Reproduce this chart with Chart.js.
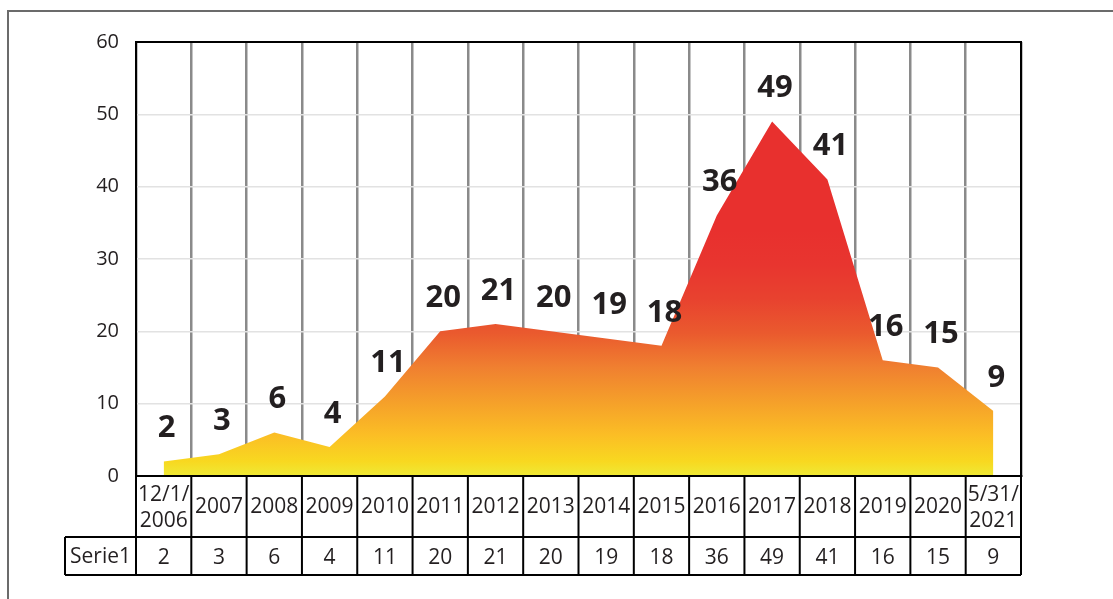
<!DOCTYPE html>
<html>
<head>
<meta charset="utf-8">
<script src="https://cdn.jsdelivr.net/npm/chart.js@4"></script>
<style>
  html, body { margin: 0; padding: 0; background: #fff; }
  canvas { display: block; }
</style>
</head>
<body>
<canvas id="chart" width="1113" height="599"></canvas>
<script>
// data
const categories = [["12/1/", "2006"], "2007", "2008", "2009", "2010", "2011", "2012", "2013",
  "2014", "2015", "2016", "2017", "2018", "2019", "2020", ["5/31/", "2021"]];
const seriesName = "Serie1";
const values = [2, 3, 6, 4, 11, 20, 21, 20, 19, 18, 36, 49, 41, 16, 15, 9];
const yTicks = [0, 10, 20, 30, 40, 50, 60];

const FONT = "'Open Sans', 'Noto Sans', sans-serif";
const TEXT = "#231f20";

function areaFill(context) {
  const chart = context.chart;
  if (!chart.chartArea) return "#f5a02a";
  const y = chart.scales.y;
  const g = chart.ctx.createLinearGradient(0, y.getPixelForValue(0), 0, y.getPixelForValue(34));
  g.addColorStop(0, "#eeea36");
  g.addColorStop(0.06, "#f8d820");
  g.addColorStop(0.17, "#fbbd25");
  g.addColorStop(0.3, "#f5a02a");
  g.addColorStop(0.44, "#f08030");
  g.addColorStop(0.58, "#ea5a2e");
  g.addColorStop(0.72, "#e8422f");
  g.addColorStop(0.86, "#e8352f");
  g.addColorStop(1, "#e8302e");
  return g;
}

// outer frame of the chart object
const framePlugin = {
  id: "frame",
  beforeDraw(chart) {
    const ctx = chart.ctx;
    ctx.save();
    ctx.fillStyle = "#fff";
    ctx.fillRect(0, 0, chart.width, chart.height);
    ctx.strokeStyle = "#6b6b6b";
    ctx.lineWidth = 2;
    ctx.strokeRect(8, 11, chart.width + 20, chart.height + 20);
    ctx.restore();
  }
};

// plot border, value labels and the data table
const tablePlugin = {
  id: "table",
  afterDatasetsDraw(chart) {
    const ctx = chart.ctx;
    const area = chart.chartArea;
    const meta = chart.getDatasetMeta(0);

    ctx.save();
    ctx.fillStyle = TEXT;
    ctx.font = "bold 31px " + FONT;
    ctx.textAlign = "center";
    ctx.textBaseline = "middle";
    meta.data.forEach((pt, i) => {
      ctx.fillText(String(values[i]), pt.x + 3, pt.y - 33);
    });

    ctx.strokeStyle = "#000";
    ctx.lineWidth = 2;
    ctx.strokeRect(area.left, area.top, area.right - area.left, area.bottom - area.top);

    const x = chart.scales.x;
    const n = categories.length;
    const w = (x.right - x.left) / n;
    const row1Top = area.bottom;
    const row1Bot = area.bottom + 61;
    const row2Bot = row1Bot + 38;
    const labelLeft = 65;

    ctx.beginPath();
    ctx.moveTo(x.left, row1Bot); ctx.lineTo(x.right, row1Bot);
    ctx.moveTo(labelLeft, row1Bot); ctx.lineTo(x.left, row1Bot);
    ctx.moveTo(labelLeft, row2Bot); ctx.lineTo(x.right, row2Bot);
    ctx.moveTo(labelLeft, row1Bot); ctx.lineTo(labelLeft, row2Bot);
    for (let i = 0; i <= n; i++) {
      const bx = x.left + i * w;
      ctx.moveTo(bx, row1Top); ctx.lineTo(bx, row2Bot);
    }
    ctx.stroke();

    ctx.font = "21px " + FONT;
    ctx.fillText(seriesName, (labelLeft + x.left) / 2, (row1Bot + row2Bot) / 2 + 1);
    categories.forEach((c, i) => {
      const cx = x.getPixelForValue(i);
      const mid = (row1Top + row1Bot) / 2 + 1;
      if (Array.isArray(c)) {
        ctx.fillText(c[0], cx, mid - 12);
        ctx.fillText(c[1], cx, mid + 14);
      } else {
        ctx.fillText(c, cx, mid);
      }
      ctx.fillText(String(values[i]), cx, (row1Bot + row2Bot) / 2 + 2);
    });
    ctx.restore();
  }
};

new Chart(document.getElementById("chart"), {
  type: "line",
  data: {
    labels: categories,
    datasets: [{
      label: seriesName,
      data: values,
      fill: "origin",
      backgroundColor: areaFill,
      borderWidth: 0,
      pointRadius: 0,
      tension: 0
    }]
  },
  options: {
    responsive: false,
    animation: false,
    devicePixelRatio: 1,
    layout: { padding: { left: 0, top: 42, right: 92, bottom: 0 } },
    plugins: {
      legend: { display: false },
      tooltip: { enabled: false }
    },
    scales: {
      x: {
        offset: true,
        grid: { offset: true, color: "#8a8a8a", lineWidth: 2.5, drawTicks: false },
        border: { color: "#000", width: 2 },
        ticks: { display: false },
        afterFit(scale) { scale.height = 123; }
      },
      y: {
        min: yTicks[0],
        max: yTicks[yTicks.length - 1],
        ticks: {
          stepSize: yTicks[1] - yTicks[0],
          color: TEXT,
          font: { family: FONT, size: 20 },
          padding: 17
        },
        grid: { color: "#e2e2e2", lineWidth: 1.5, drawTicks: false },
        border: { color: "#000", width: 2 },
        afterFit(scale) { scale.width = 136; }
      }
    }
  },
  plugins: [framePlugin, tablePlugin]
});
</script>
</body>
</html>
